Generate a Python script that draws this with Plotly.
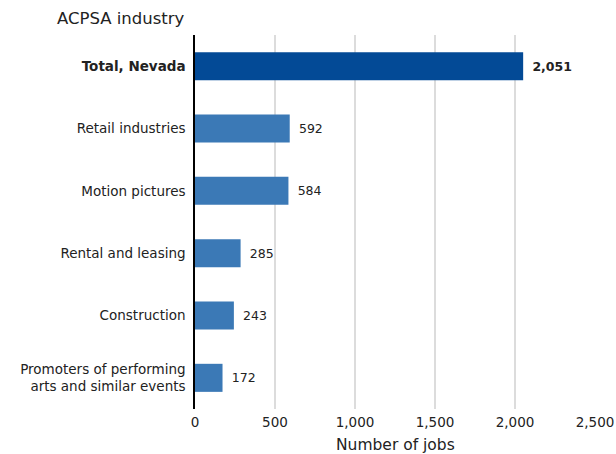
import plotly.graph_objects as go

categories = ["Total, Nevada", "Retail industries", "Motion pictures", "Rental and leasing",
              "Construction", "Promoters of performing<br>arts and similar events"]
jobs = [2051, 592, 584, 285, 243, 172]
tick_vals = [0, 500, 1000, 1500, 2000, 2500]
tick_text = ["0", "500", "1,000", "1,500", "2,000", "2,500"]

font = "'DejaVu Sans', sans-serif"
colors = ["#034a96"] + ["#3b79b6"] * (len(jobs) - 1)
gap = "\u2004\u2006"
labels = [gap + "<b>2,051</b>"] + [f"{gap}{v:,}" for v in jobs[1:]]
cat_labels = ["<b>" + categories[0] + "</b>"] + categories[1:]

fig = go.Figure(go.Bar(
    x=jobs, y=cat_labels, orientation="h",
    marker=dict(color=colors, line=dict(width=0)),
    width=0.45,
    text=labels, textposition="outside", cliponaxis=False,
    textfont=dict(size=12.5, color="#222"),
))

fig.update_layout(
    width=616, height=454,
    margin=dict(l=195, r=21, t=35, b=45),
    paper_bgcolor="white", plot_bgcolor="white",
    font=dict(family=font, size=13.5, color="#222"),
    showlegend=False,
)
fig.add_annotation(text="ACPSA industry", xref="paper", yref="paper", x=-0.35, y=1.0,
                   yanchor="middle", xanchor="left", showarrow=False,
                   font=dict(size=16.5, color="#222"), yshift=17)
fig.add_annotation(text="Number of jobs", xref="paper", yref="paper", x=0.5, y=0,
                   yanchor="middle", xanchor="center", showarrow=False,
                   font=dict(size=15.5, color="#222"), yshift=-36)

fig.update_xaxes(range=[0, 2500], tickvals=tick_vals, ticktext=tick_text, automargin=False,
                 showgrid=True, gridcolor="#dcdcdc", gridwidth=1.5, zeroline=False,
                 ticks="", ticklabelstandoff=3)
fig.update_yaxes(autorange="reversed", showline=True, linecolor="black", linewidth=1.5,
                 ticks="", ticklabelstandoff=5, automargin=False)

# drop the default body margin so the figure fills the window exactly
fig.write_html("out.html", config={"displayModeBar": False},
               post_script="document.body.style.margin='0';")
